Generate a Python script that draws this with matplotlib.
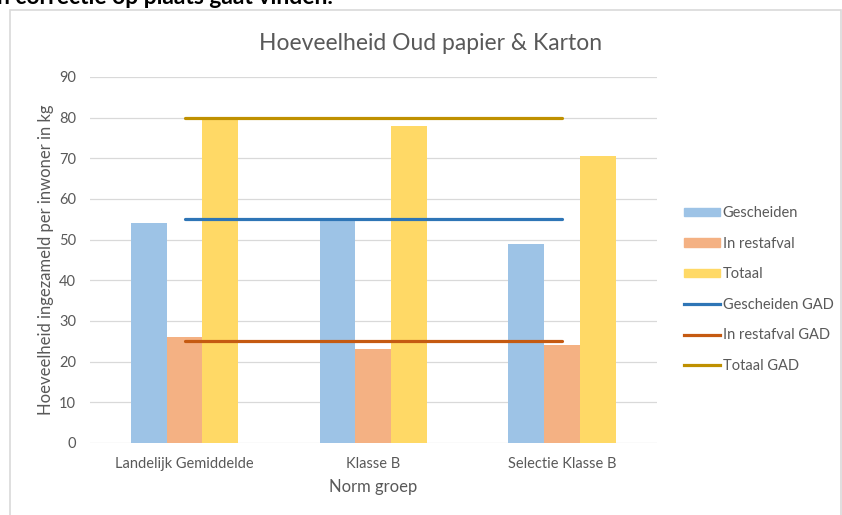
import matplotlib.pyplot as plt
from matplotlib.patches import Patch, Rectangle
from matplotlib.lines import Line2D
import numpy as np

plt.rcParams['font.family'] = ['Lato', 'DejaVu Sans']

# Data
groups = ['Landelijk Gemiddelde', 'Klasse B', 'Selectie Klasse B']
gescheiden = [54, 55, 49]
restafval = [26, 23, 24]
totaal = [80, 78, 70.5]
gescheiden_gad = [55, 55, 55]
restafval_gad = [25, 25, 25]
totaal_gad = [80, 80, 80]

bar_colors = ['#9DC3E6', '#F4B183', '#FFD966']
line_colors = ['#2E75B6', '#C55A11', '#BF9000']
text_grey = '#595959'

fig = plt.figure(figsize=(8.42, 5.15), dpi=100)
ax = fig.add_axes([0.107, 0.140, 0.673, 0.7107])

# Chart border and the cut-off sentence above it
fig.patches.append(Rectangle((10 / 842, -0.01), 831 / 842, 1 - 10 / 515 + 0.01,
                             transform=fig.transFigure, fill=False,
                             edgecolor='#D9D9D9', lw=1.2))
fig.text(-0.004, 1 - 4 / 515, 'n correctie op plaats gaat vinden.', fontsize=16.5,
         fontweight='bold', color='black', va='baseline', ha='left')

x = np.arange(len(groups))
w = 0.19
ax.bar(x - w, gescheiden, w, color=bar_colors[0], label='Gescheiden', zorder=2)
ax.bar(x, restafval, w, color=bar_colors[1], label='In restafval', zorder=2)
ax.bar(x + w, totaal, w, color=bar_colors[2], label='Totaal', zorder=2)

ax.plot(x, gescheiden_gad, color=line_colors[0], lw=2.3, zorder=3, solid_capstyle='round')
ax.plot(x, restafval_gad, color=line_colors[1], lw=2.3, zorder=3, solid_capstyle='round')
ax.plot(x, totaal_gad, color=line_colors[2], lw=2.3, zorder=3, solid_capstyle='round')

ax.set_xlim(-0.5, 2.5)
ax.set_ylim(0, 90)
ax.set_yticks(range(0, 91, 10))
ax.set_xticks(x)
ax.set_xticklabels(groups)
ax.yaxis.grid(True, color='#D9D9D9', lw=0.9, zorder=0)
ax.set_axisbelow(True)
for s in ax.spines.values():
    s.set_visible(False)
ax.tick_params(length=0, colors=text_grey, labelsize=10.5)
ax.tick_params(axis='y', pad=10)
ax.tick_params(axis='x', pad=10)

# title is centred on the whole chart box, not on the plot area
fig.text(431 / 842, 1 - 44 / 515, 'Hoeveelheid Oud papier & Karton', fontsize=16.5,
         color=text_grey, ha='center', va='center')
ax.set_xlabel('Norm groep', fontsize=12, color=text_grey, labelpad=6)
ax.set_ylabel('Hoeveelheid ingezameld per inwoner in kg', fontsize=12, color=text_grey,
              labelpad=4)

handles = [Patch(color=bar_colors[0]), Patch(color=bar_colors[1]), Patch(color=bar_colors[2]),
           Line2D([], [], color=line_colors[0], lw=2.3),
           Line2D([], [], color=line_colors[1], lw=2.3),
           Line2D([], [], color=line_colors[2], lw=2.3)]
labels = ['Gescheiden', 'In restafval', 'Totaal', 'Gescheiden GAD', 'In restafval GAD', 'Totaal GAD']
leg = fig.legend(handles, labels, loc='center left', bbox_to_anchor=(684 / 842, 1 - 289.5 / 515),
                 frameon=False, fontsize=10.5, labelspacing=1.13, handlelength=2.5,
                 handleheight=0.5, handletextpad=0.15, borderpad=0, borderaxespad=0)
for t in leg.get_texts():
    t.set_color(text_grey)

fig.savefig('out.png', dpi=100)
